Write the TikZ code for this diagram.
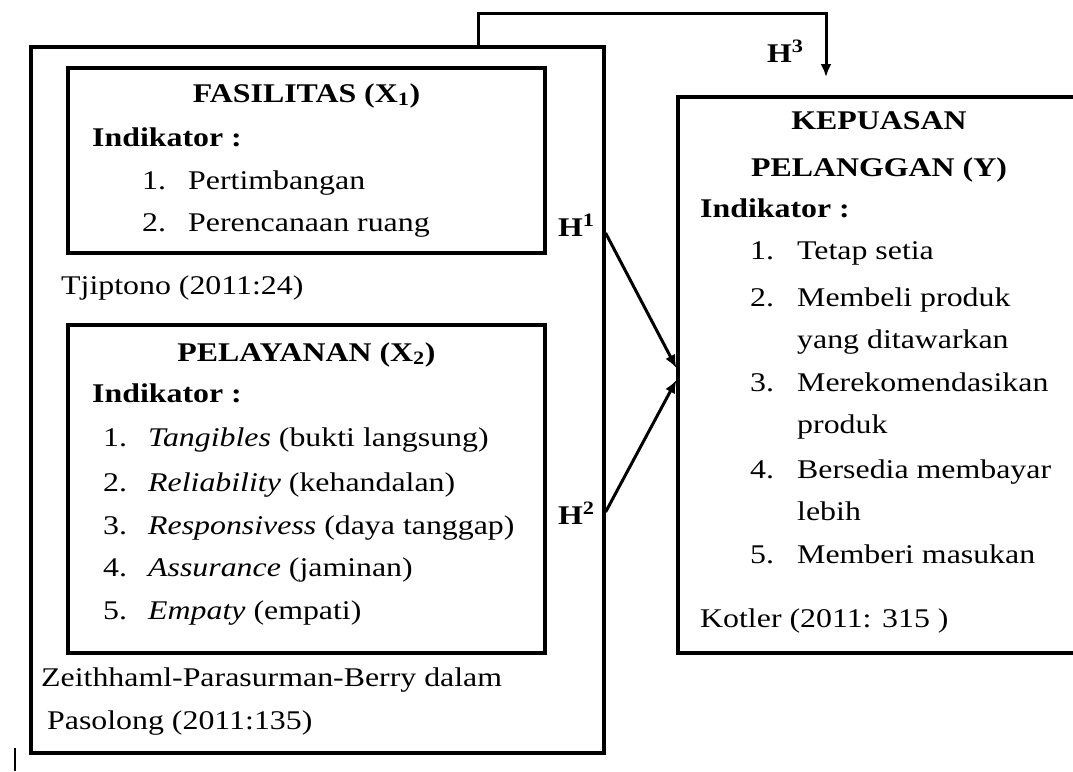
\documentclass[tikz,border=0pt]{standalone}
\usepackage{fontspec}
\setmainfont{Liberation Serif}[FakeStretch=1.18]
\usetikzlibrary{arrows.meta}

\begin{document}
\begin{tikzpicture}[x=1pt,y=-1pt,>={Latex[length=13pt,width=11pt]},
  every node/.style={font=\fontsize{27}{32}\selectfont, inner sep=0pt, anchor=base west},
  box/.style={draw, line width=3.2pt, anchor=center},
  title/.style={anchor=base, font=\fontsize{27}{32}\selectfont\bfseries},
  link/.style={draw, line width=3pt}]
\useasboundingbox (0,0) rectangle (1073,771);

\node[box, minimum width=573pt, minimum height=706pt] (outer) at (317.5,400) {};
\node[box, minimum width=477pt, minimum height=185pt] (fas) at (306.5,160.5) {};
\node[box, minimum width=477pt, minimum height=328pt] (pel) at (306.5,489) {};
\node[box, minimum width=402pt, minimum height=556pt] (kep) at (879,375) {};

\node[title] (fasT) at (306.5,102) {FASILITAS (X\textsubscript{1})};
\node[font=\fontsize{27}{32}\selectfont\bfseries] (fasI) at (92,146) {Indikator :};
\node (fasN1) at (142,189) {1.};
\node (fas1) at (188,189) {Pertimbangan};
\node (fasN2) at (142,231) {2.};
\node (fas2) at (188,231) {Perencanaan ruang};
\node (fasR) at (61,294) {Tjiptono (2011:24)};

\node[title] (pelT) at (306.5,361) {PELAYANAN (X\textsubscript{2})};
\node[font=\fontsize{27}{32}\selectfont\bfseries] (pelI) at (92,402) {Indikator :};
\node (pelN1) at (103,446) {1.};
\node (pel1) at (148,446) {\textit{Tangibles} (bukti langsung)};
\node (pelN2) at (103,491) {2.};
\node (pel2) at (148,491) {\textit{Reliability} (kehandalan)};
\node (pelN3) at (103,534) {3.};
\node (pel3) at (148,534) {\textit{Responsivess} (daya tanggap)};
\node (pelN4) at (103,576) {4.};
\node (pel4) at (148,576) {\textit{Assurance} (jaminan)};
\node (pelN5) at (103,619) {5.};
\node (pel5) at (148,619) {\textit{Empaty} (empati)};
\node (pelR1) at (41,686) {Zeithhaml-Parasurman-Berry dalam};
\node (pelR2) at (47,729) {Pasolong (2011:135)};

\node[title] (kepT1) at (879,129) {KEPUASAN};
\node[title] (kepT2) at (879,176) {PELANGGAN (Y)};
\node[font=\fontsize{27}{32}\selectfont\bfseries] (kepI) at (700,217) {Indikator :};
\node (kepN1) at (750,259) {1.};
\node (kep1) at (797,259) {Tetap setia};
\node (kepN2) at (750,306) {2.};
\node (kep2) at (797,306) {Membeli produk};
\node (kep2b) at (797,348) {yang ditawarkan};
\node (kepN3) at (750,391) {3.};
\node (kep3) at (797,391) {Merekomendasikan};
\node (kep3b) at (797,433) {produk};
\node (kepN4) at (750,478) {4.};
\node (kep4) at (797,478) {Bersedia membayar};
\node (kep4b) at (797,520) {lebih};
\node (kepN5) at (750,563) {5.};
\node (kep5) at (797,563) {Memberi masukan};
\node (kepR) at (700,627) {Kotler (2011: 315 )};

\node[font=\fontsize{27}{32}\selectfont\bfseries] (h1) at (558,236) {H\textsuperscript{1}};
\node[font=\fontsize{27}{32}\selectfont\bfseries] (h2) at (558,524) {H\textsuperscript{2}};
\node[font=\fontsize{27}{32}\selectfont\bfseries] (h3) at (767,62) {H\textsuperscript{3}};

\coordinate (h3top) at (826,13);
\coordinate (h3end) at (826,77);

\path[link,->] ([yshift=167pt]outer.east) -- ([yshift=7pt]kep.west);
\path[link,->] ([yshift=-112pt]outer.east) -- ([yshift=-5pt]kep.west);
\path[link,->] ([xshift=160.5pt]outer.north) |- (h3top) -- (h3end);

\draw[line width=2.4pt] (15,748) -- (15,771);
\end{tikzpicture}
\end{document}
